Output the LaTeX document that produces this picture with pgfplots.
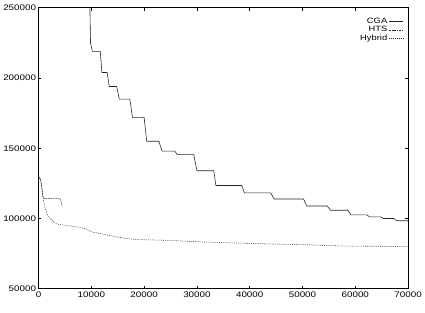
\documentclass[border=0pt]{standalone}
\usepackage{fontspec}
\setmainfont{Liberation Sans}[FakeStretch=1.22]
\usepackage{pgfplots}
\pgfplotsset{compat=1.18}
\begin{document}
\begin{tikzpicture}
\begin{axis}[
  scale only axis,
  width=375bp, height=285bp,
  xmin=0, xmax=70000, ymin=50000, ymax=250000,
  xtick={0,10000,20000,30000,40000,50000,60000,70000},
  xticklabels={0,10000,20000,30000,40000,50000,60000,70000},
  ytick={50000,100000,150000,200000,250000},
  yticklabels={50000,100000,150000,200000,250000},
  scaled ticks=false,
  tick label style={font=\fontsize{8.2}{9}\selectfont},
  yticklabel style={xshift=1bp},
  major tick length=3bp,
  tick style={black, line width=0.8pt},
  axis line style={line width=0.9pt},
  legend style={draw=none, fill=none, at={(0.99,0.975)}, anchor=north east,
    font=\fontsize{7.8}{7.8}\selectfont, row sep=-2.2bp, inner sep=1bp},
  legend cell align=right,
  legend plot pos=right,
  legend image post style={xscale=0.8},
]
\addplot[black!85, line width=0.6pt] coordinates {
(9700,256000)(9850,225000)(10200,219000)(11700,219000)(12000,204000)(13000,204000)
(13400,194000)(14800,194000)(15300,185000)(17300,185000)(17800,172000)(20000,172000)
(20500,155000)(22800,155000)(23400,148000)(25800,148000)(26300,145500)(29400,145500)
(30000,134000)(33200,134000)(33600,123500)(38500,123500)(39000,118300)(44000,118300)
(44600,113900)(50200,113900)(50800,108900)(54700,108900)(55300,105900)(58600,105900)
(59200,102600)(62200,102600)(62700,101200)(64800,101200)(65300,100000)(67300,100000)
(67800,98400)(70000,98400)
};
\addlegendentry{CGA}
\addplot[black!85, line width=0.55pt, dash pattern=on 1.6bp off 0.9bp] coordinates {
(0,130000)(450,127500)(800,116000)(1100,114200)(4000,114200)(4250,112500)(4500,108700)
};
\addlegendentry{HTS}
\addplot[black!85, line width=0.55pt, dash pattern=on 0.8bp off 1.1bp] coordinates {
(0,130000)(300,128000)(600,123000)(900,114000)(1200,108000)(1600,103500)(2200,100000)
(3000,97000)(3600,96000)(5000,95200)(7500,94000)(9000,92500)(10000,90500)(12000,89000)
(14000,87500)(16500,85800)(19000,85000)(24000,84500)(32000,83200)(40000,82300)
(45000,81800)(50000,81400)(55000,80800)(58500,80300)(70000,80200)
};
\addlegendentry{Hybrid}
\end{axis}
\path ([yshift=8bp]current axis.north) ([yshift=-24bp]current axis.south);
\end{tikzpicture}
\end{document}
